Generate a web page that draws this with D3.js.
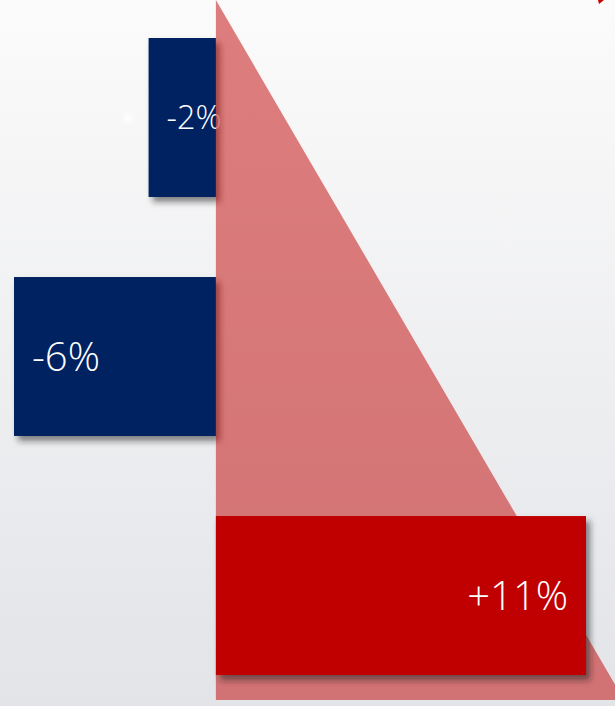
<!DOCTYPE html>
<html><head><meta charset="utf-8">
<script src="https://cdn.jsdelivr.net/npm/d3@7"></script>
<style>html,body{margin:0;padding:0;overflow:hidden;background:#fff}svg{display:block}</style>
</head><body>
<svg id="c" width="615" height="706"></svg>
<script>
const categories = ["Group A", "Group B", "Group C"];
const values = [-2, -6, 11];
const labels = ["-2%", "-6%", "+11%"];
const trendEnd = 12.13;

const W = 615, H = 706;
const svg = d3.select("#c");
const defs = svg.append("defs");

const bg = defs.append("linearGradient").attr("id","bg").attr("x1",0).attr("y1",0).attr("x2",0).attr("y2",1);
bg.append("stop").attr("offset","0%").attr("stop-color","#fbfbfb");
bg.append("stop").attr("offset","100%").attr("stop-color","#e3e4e8");

const glow = defs.append("radialGradient").attr("id","glow");
glow.append("stop").attr("offset","0%").attr("stop-color","#ffffff").attr("stop-opacity",1);
glow.append("stop").attr("offset","100%").attr("stop-color","#ffffff").attr("stop-opacity",0);

const sh = defs.append("filter").attr("id","sh").attr("x","-10%").attr("y","-10%").attr("width","130%").attr("height","130%");
sh.append("feDropShadow").attr("dx",4).attr("dy",5).attr("stdDeviation",3).attr("flood-color","#222").attr("flood-opacity",0.55);

svg.append("rect").attr("width",W).attr("height",H).attr("fill","url(#bg)");
svg.append("circle").attr("cx",128).attr("cy",118).attr("r",8).attr("fill","url(#glow)").attr("opacity",0.9);

const x = d3.scaleLinear().domain([-6, 11]).range([14, 586]);
const y = d3.scaleBand().domain(categories).range([38, 675]).paddingInner(0.335);

const data = categories.map((c,i)=>({c, v: values[i], label: labels[i]}));
const neg = data.filter(d=>d.v<0), pos = data.filter(d=>d.v>=0);

function drawBars(sel, arr, color){
  const g = sel.selectAll(null).data(arr).enter().append("g");
  g.append("rect")
    .attr("x", d=>x(Math.min(0,d.v)))
    .attr("y", d=>y(d.c))
    .attr("width", d=>Math.abs(x(d.v)-x(0)))
    .attr("height", y.bandwidth())
    .attr("fill", color)
    .attr("filter","url(#sh)");
  g.append("text")
    .attr("x", d=> d.v<0 ? x(d.v)+18 : x(d.v)-18)
    .attr("y", d=> { const fs = Math.min(40, Math.abs(x(d.v)-x(0))*0.48); return y(d.c)+y.bandwidth()/2 + fs*0.36; })
    .attr("text-anchor", d=> d.v<0 ? "start" : "end")
    .attr("font-family","'Open Sans', Lato, sans-serif")
    .attr("font-weight",300)
    .attr("font-size", d=> Math.min(40, Math.abs(x(d.v)-x(0))*0.48)+"px")
    .attr("fill","#fff")
    .text(d=>d.label);
}

drawBars(svg.append("g"), neg, "#002060");

// trend triangle
const tri = d3.line()([[x(0),0],[x(trendEnd),700],[x(0),700]]) + "Z";
svg.append("path").attr("d",tri).attr("fill","#c00000").attr("fill-opacity",0.5);

drawBars(svg.append("g"), pos, "#c00000");

// small arrow tip at top-right
svg.append("path").attr("d", d3.line()([[598,0],[604,0],[599,4]])+"Z").attr("fill","#d00000");
</script>
</body></html>
